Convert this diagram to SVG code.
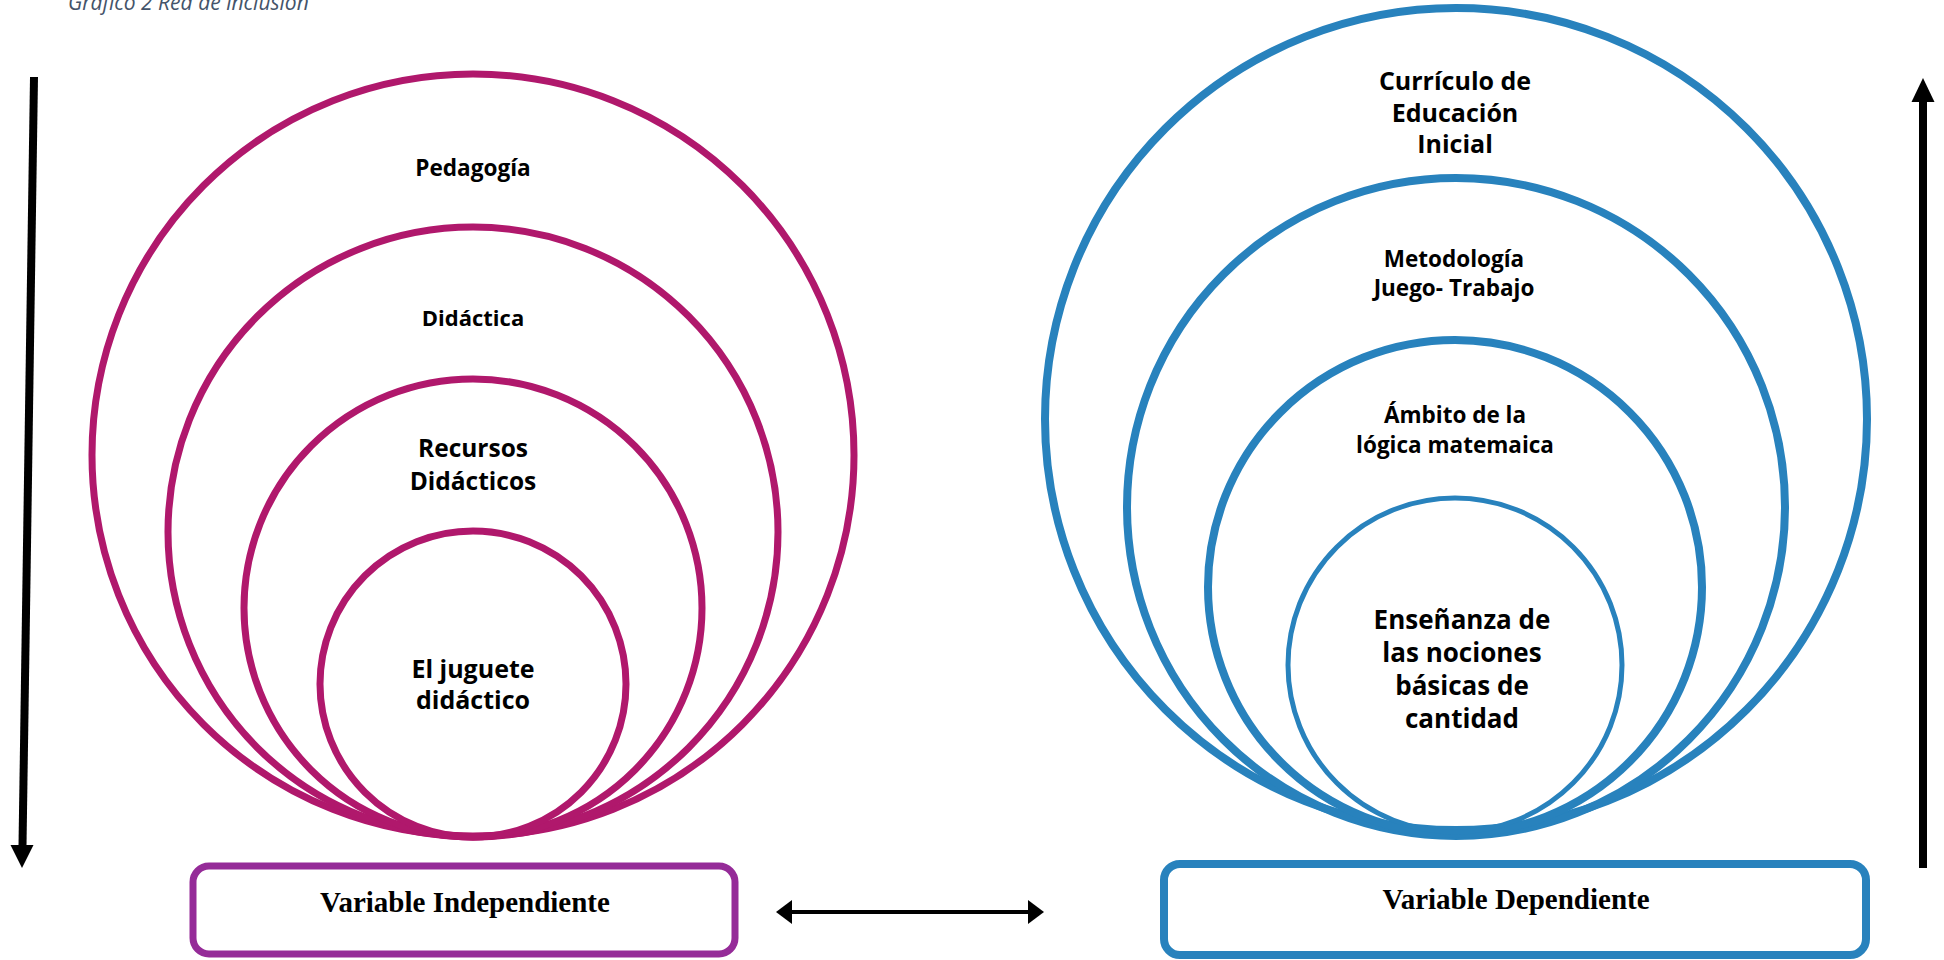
<svg xmlns="http://www.w3.org/2000/svg" width="1944" height="960" viewBox="0 0 1944 960">
<style>
.mag{fill:none;stroke:#B0186C;stroke-width:7}
.blu{fill:none;stroke:#2882BD;stroke-width:8}
.blu2{fill:none;stroke:#2882BD;stroke-width:5}
.lbl{font-family:"Open Sans","Noto Sans","Liberation Sans",sans-serif;font-weight:bold;fill:#000;text-anchor:middle}
.var{font-family:"Liberation Serif","Times New Roman",serif;font-weight:bold;font-size:29px;fill:#000;text-anchor:middle}
.cap{font-family:"Open Sans","Liberation Sans",sans-serif;font-style:italic;font-size:21px;fill:#44546A}
</style>
<rect width="1944" height="960" fill="#fff"/>
<text class="cap" x="68" y="10">Gráfico 2 Red de inclusión</text>

<g id="left-circles">
<g id="pedagogia"><circle class="mag" cx="473" cy="455" r="381"/><text class="lbl" x="473" y="176" font-size="22.6">Pedagogía</text></g>
<g id="didactica"><circle class="mag" cx="473" cy="532" r="305"/><text class="lbl" x="473" y="326" font-size="22">Didáctica</text></g>
<g id="recursos"><circle class="mag" cx="473" cy="608" r="229"/><text class="lbl" x="473" y="457" font-size="24.5">Recursos</text><text class="lbl" x="473" y="490" font-size="24.5">Didácticos</text></g>
<g id="juguete"><circle class="mag" cx="473" cy="684" r="153"/><text class="lbl" x="473" y="678" font-size="25">El juguete</text><text class="lbl" x="473" y="709" font-size="25">didáctico</text></g>
</g>

<g id="right-circles">
<g id="curriculo"><circle class="blu" cx="1456" cy="419" r="411"/><text class="lbl" x="1455" y="90" font-size="25">Currículo de</text><text class="lbl" x="1455" y="122" font-size="25">Educación</text><text class="lbl" x="1455" y="153" font-size="25">Inicial</text></g>
<g id="metodologia"><circle class="blu" cx="1456" cy="507" r="329"/><text class="lbl" x="1454" y="267" font-size="22.5">Metodología</text><text class="lbl" x="1454" y="296" font-size="22.5">Juego- Trabajo</text></g>
<g id="ambito"><circle class="blu" cx="1455" cy="587" r="247"/><text class="lbl" x="1455" y="423" font-size="22.5">Ámbito de la</text><text class="lbl" x="1455" y="453" font-size="22.5">lógica matemaica</text></g>
<g id="ensenanza"><circle class="blu2" cx="1455" cy="665" r="167"/><text class="lbl" x="1462" y="629" font-size="26">Enseñanza de</text><text class="lbl" x="1462" y="662" font-size="26">las nociones</text><text class="lbl" x="1462" y="695" font-size="26">básicas de</text><text class="lbl" x="1462" y="728" font-size="26">cantidad</text></g>
</g>

<g id="var-independiente"><rect x="193" y="866" width="542" height="88" rx="16" fill="#fff" stroke="#952B98" stroke-width="7"/><text class="var" x="465" y="912">Variable Independiente</text></g>
<g id="var-dependiente"><rect x="1164" y="864" width="702" height="91" rx="16" fill="#fff" stroke="#2882BD" stroke-width="8"/><text class="var" x="1516" y="909">Variable Dependiente</text></g>

<g id="connectors">
<line x1="34" y1="77" x2="22.5" y2="846" stroke="#000" stroke-width="8"/>
<polygon points="10.5,845 33.5,845 22,868" fill="#000"/>
<line x1="1923" y1="868" x2="1923" y2="100" stroke="#000" stroke-width="8"/>
<polygon points="1911.5,102 1934.5,102 1923,78" fill="#000"/>
<line x1="790" y1="912" x2="1030" y2="912" stroke="#000" stroke-width="4"/>
<polygon points="776,912 792,900 792,924" fill="#000"/>
<polygon points="1044,912 1028,900 1028,924" fill="#000"/>
</g>
</svg>
